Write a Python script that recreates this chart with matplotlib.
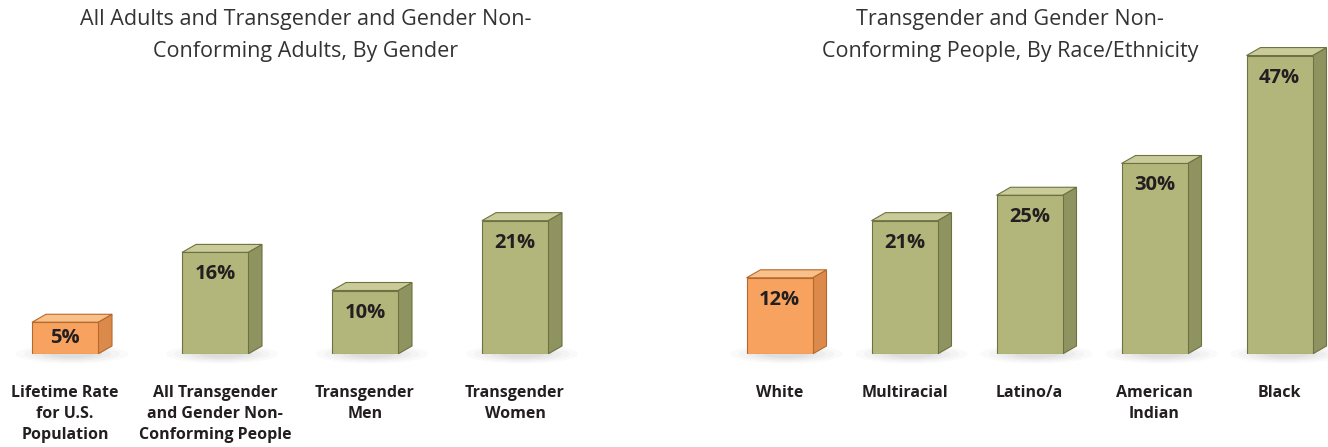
import numpy as np
import matplotlib
matplotlib.use("Agg")
import matplotlib.pyplot as plt
from matplotlib.patches import Polygon, Ellipse

plt.rcParams["font.family"] = ["Open Sans", "DejaVu Sans"]

# Data
gender_labels = ["Lifetime Rate\nfor U.S.\nPopulation",
                 "All Transgender\nand Gender Non-\nConforming People",
                 "Transgender\nMen", "Transgender\nWomen"]
gender_values = [5, 16, 10, 21]
gender_highlight = [True, False, False, False]

race_labels = ["White", "Multiracial", "Latino/a", "American\nIndian", "Black"]
race_values = [12, 21, 25, 30, 47]
race_highlight = [True, False, False, False, False]

left_title = ["All Adults and Transgender and Gender Non-",
              "Conforming Adults, By Gender"]
right_title = ["Transgender and Gender Non-",
               "Conforming People, By Race/Ethnicity"]

W, H = 1328, 447
PX_PER_PCT = 6.35
BASE_PX = 354
TEXT = "#231f20"

ORANGE = dict(front="#f7a25e", top="#fac08a", side="#dc8a4c", edge="#b5692c")
GREEN = dict(front="#b2b67a", top="#c9cc99", side="#8e9360", edge="#6e7242")


def add_axes(px_left, px_right):
    return fig.add_axes([px_left / W, (H - BASE_PX) / H,
                         (px_right - px_left) / W, BASE_PX / H])


def draw_panel(ax, labels, values, highlight, first_center_px, spacing_px,
               bar_px, px_left, px_right):
    ax.set_xlim((px_left - first_center_px) / spacing_px,
                (px_right - first_center_px) / spacing_px)
    ax.set_ylim(0, BASE_PX / PX_PER_PCT)
    ax.axis("off")

    bw = bar_px / spacing_px
    dx = 14 / spacing_px
    dy = 8 / PX_PER_PCT

    for i, (lab, v, hl) in enumerate(zip(labels, values, highlight)):
        c = ORANGE if hl else GREEN
        x0, x1 = i - bw / 2, i + bw / 2
        # soft shadow under the bar
        for k, a in enumerate([0.03, 0.04, 0.05, 0.06, 0.07]):
            s = 1 - k * 0.15
            ax.add_patch(Ellipse((i + dx / 2, 0.0), bw * 1.7 * s, 3.0 * s,
                                 facecolor="#7a7a7a", edgecolor="none",
                                 alpha=a, clip_on=False, zorder=1))
        # side, top, front
        ax.add_patch(Polygon([(x1, 0), (x1 + dx, dy), (x1 + dx, v + dy), (x1, v)],
                             closed=True, facecolor=c["side"], edgecolor=c["edge"],
                             linewidth=0.8, zorder=2))
        ax.add_patch(Polygon([(x0, v), (x0 + dx, v + dy), (x1 + dx, v + dy), (x1, v)],
                             closed=True, facecolor=c["top"], edgecolor=c["edge"],
                             linewidth=0.8, zorder=2))
        ax.add_patch(Polygon([(x0, 0), (x0, v), (x1, v), (x1, 0)],
                             closed=True, facecolor=c["front"], edgecolor=c["edge"],
                             linewidth=0.8, zorder=3))
        ty = max(v - 22 / PX_PER_PCT, v / 2)
        ax.text(i, ty, f"{v}%", ha="center", va="center", fontsize=14.5,
                fontweight="bold", color=TEXT, zorder=4)
        ax.annotate(lab, xy=(i, 0), xytext=(0, -31), textcoords="offset pixels",
                    ha="center", va="top", fontsize=11.5, fontweight="bold",
                    color=TEXT, linespacing=1.42, annotation_clip=False)


fig = plt.figure(figsize=(W / 100, H / 100), dpi=100)

ax_l = add_axes(0, 620)
draw_panel(ax_l, gender_labels, gender_values, gender_highlight,
           65, 150, 66, 0, 620)

ax_r = add_axes(640, 1328)
draw_panel(ax_r, race_labels, race_values, race_highlight,
           779.5, 125, 66, 640, 1328)

for cx, lines in [(306, left_title), (1010, right_title)]:
    for cy, line in zip([20, 52], lines):
        fig.text(cx / W, 1 - cy / H, line, ha="center", va="center",
                 fontsize=15.5, color="#333333")

fig.savefig("out.png", dpi=100)
